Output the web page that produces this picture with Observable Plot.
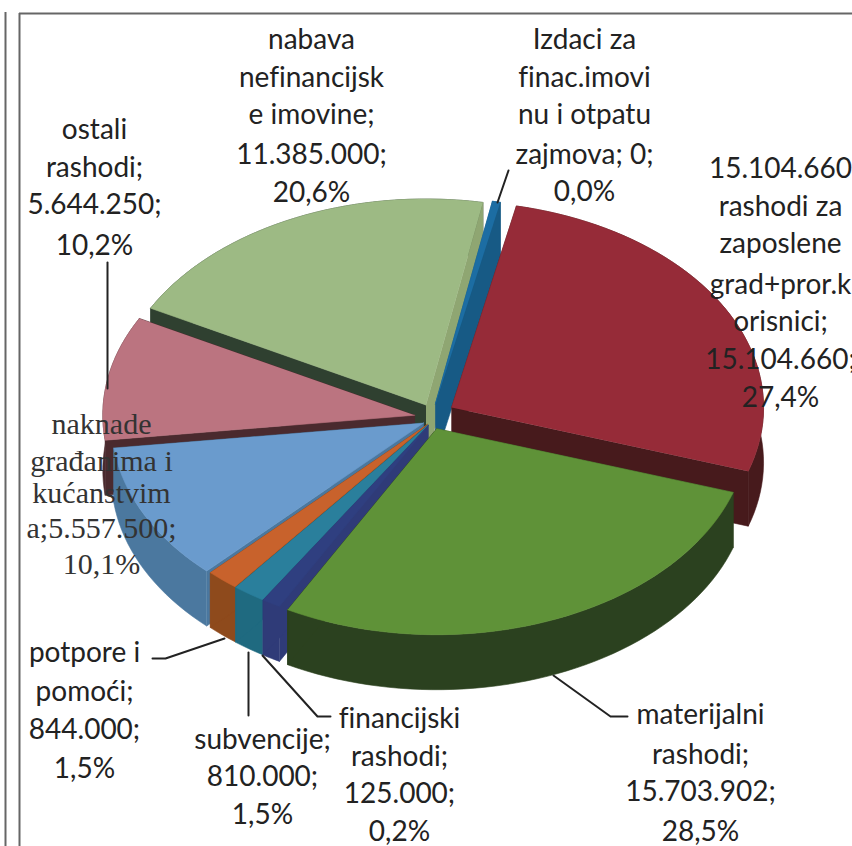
<!DOCTYPE html>
<html><head><meta charset="utf-8">
<script src="https://cdn.jsdelivr.net/npm/d3@7"></script>
<script src="https://cdn.jsdelivr.net/npm/@observablehq/plot@0.6"></script>
<style>html,body{margin:0;padding:0;background:#fff;overflow:hidden}svg{display:block}svg text{font-variant-ligatures:none}</style>
</head><body><div id="chart"></div>
<script>
// Data, clockwise from the "rashodi za zaposlene" slice
const ids = ["zaposleni","materijalni","financijski","subvencije","potpore","naknade","ostali","nabava","izdaci"];
const amounts = [15104660,15703902,125000,810000,844000,5557500,5644250,11385000,0];
const percents = [27.4,28.5,0.2,1.5,1.5,10.1,10.2,20.6,0.0];
// Angular share of each wedge as it is actually drawn in the picture (%)
const drawnShare = [26.67,27.92,0.97,1.67,1.67,10.83,9.72,20.14,0.41];
const explode = [22,11,8,8,8,10,18,15,15];

const topColor  = ["#962b38","#5f9238","#2f3f80","#2a7f9c","#c8622c","#6a9bcd","#bb7480","#9dba84","#1c6da3"];
const sideColor = ["#471a1c","#2b411f","#2f3b78","#1f6a80","#8e4a1c","#4b789f","#4a2a2e","#2f4030","#175a85"];
const startFace = ["#471a1c","#2b411f","#2f3b78","#1f6a80","#8e4a1c","#4b789f","#4a2a2e","#2f4030","#175a85"];
const endFace   = ["#471a1c","#2b411f","#2f3b78","#1f6a80","#8e4a1c","#4b789f","#4a2a2e","#8fa672","#175a85"];
const paintOrder = [7,8,0,6,5,4,3,2,1];

// Pie layout
const centre = {x:432,y:418}, rx=312, ry=206, depth=55, rotation=12;

const labelLines = [
 ["15.104.660","rashodi za","zaposlene","grad+pror.k","orisnici;","15.104.660;","27,4%"],
 ["materijalni","rashodi;","15.703.902;","28,5%"],
 ["financijski","rashodi;","125.000;","0,2%"],
 ["subvencije;","810.000;","1,5%"],
 ["potpore i","pomoći;","844.000;","1,5%"],
 ["naknade","građanima i","kućanstvim","a;5.557.500;","10,1%"],
 ["ostali","rashodi;","5.644.250;","10,2%"],
 ["nabava","nefinancijsk","e imovine;","11.385.000;","20,6%"],
 ["Izdaci za","finac.imovi","nu i otpatu","zajmova; 0;","0,0%"]
];
const labelX = [780,700,399,262,84,101,94,311,584];
const labelBaselines = [
 [177,215,252,293,330,368,406],[723,763,800,840],[727,765,802,840],[748,785,823],
 [661,700,738,777],[433,470,502,537,573],[138,176,213,254],[48,86,123,163,201],[48,86,123,163,200]
];
const leaders = [
 [[553,675],[610,716],[627,716]],
 [[262,655],[317,716],[330,716]],
 [[248,652],[248,715]],
 [[152,658],[165,658],[224,638]],
 [[107,262],[107,388]],
 [[508,170],[497,202]]
];
const frameV = [{x:5,y1:12,y2:846},{x:19,y1:13,y2:846}];
const frameH = [{y:13,x1:19,x2:852}];

// Wedge geometry from the shares
const rad = d => d*Math.PI/180;
const onRim = (c,a,dz=0) => ({x:c.x+rx*Math.sin(rad(a)), y:c.y-ry*Math.cos(rad(a))+dz});
let cum = rotation;
const wedges = ids.map((id,i)=>{
  const a0=cum, a1=cum+drawnShare[i]*3.6; cum=a1;
  const m=(a0+a1)/2;
  const c={x:centre.x+explode[i]*Math.sin(rad(m)), y:centre.y-explode[i]*Math.cos(rad(m))};
  return {id,i,a0,a1,c};
});
const polys=[];
function poly(key,fill,pts){pts.forEach(p=>polys.push({id:key,fill,x:p.x,y:p.y}));}
for (const k of paintOrder){
  const w=wedges[k];
  const n=Math.max(4,Math.ceil((w.a1-w.a0)/2));
  const angs=d3.range(n+1).map(j=>w.a0+(w.a1-w.a0)*j/n);
  const lo={x:w.c.x,y:w.c.y+depth};
  poly(w.id+"-startface",startFace[k],[w.c,onRim(w.c,w.a0),onRim(w.c,w.a0,depth),lo]);
  poly(w.id+"-side",sideColor[k],[...angs.map(a=>onRim(w.c,a)),...angs.slice().reverse().map(a=>onRim(w.c,a,depth))]);
  poly(w.id+"-endface",endFace[k],[w.c,onRim(w.c,w.a1),onRim(w.c,w.a1,depth),lo]);
  poly(w.id+"-top",topColor[k],[w.c,...angs.map(a=>onRim(w.c,a))]);
}
const leaderPts=leaders.flatMap((l,i)=>l.map(p=>({id:i,x:p[0],y:p[1]})));
const texts=labelLines.flatMap((ls,i)=>ls.map((t,j)=>({t,i,x:labelX[i],y:labelBaselines[i][j]})));
const isSerif=d=>d.i===5;

const svg=Plot.plot({
  width:852,height:846,margin:0,
  x:{domain:[0,852],range:[0,852],axis:null},
  y:{domain:[0,846],range:[0,846],axis:null},
  marks:[
    Plot.line(polys,{x:"x",y:"y",z:"id",fill:"fill",stroke:"fill",strokeWidth:0.6,curve:"linear"}),
    Plot.line(leaderPts,{x:"x",y:"y",z:"id",stroke:"#222",strokeWidth:2,curve:"linear"}),
    Plot.ruleX(frameV,{x:"x",y1:"y1",y2:"y2",stroke:"#666",strokeWidth:2}),
    Plot.ruleY(frameH,{y:"y",x1:"x1",x2:"x2",stroke:"#666",strokeWidth:2}),
    Plot.text(texts.filter(d=>!isSerif(d)),{x:"x",y:"y",text:"t",textAnchor:"middle",lineAnchor:"bottom",fontFamily:"Lato",fontSize:28,fill:"#222"}),
    Plot.text(texts.filter(isSerif),{x:"x",y:"y",text:"t",textAnchor:"middle",lineAnchor:"bottom",fontFamily:"Liberation Serif",fontSize:30,fill:"#333"})
  ]
});
document.getElementById("chart").append(svg);
</script></body></html>
